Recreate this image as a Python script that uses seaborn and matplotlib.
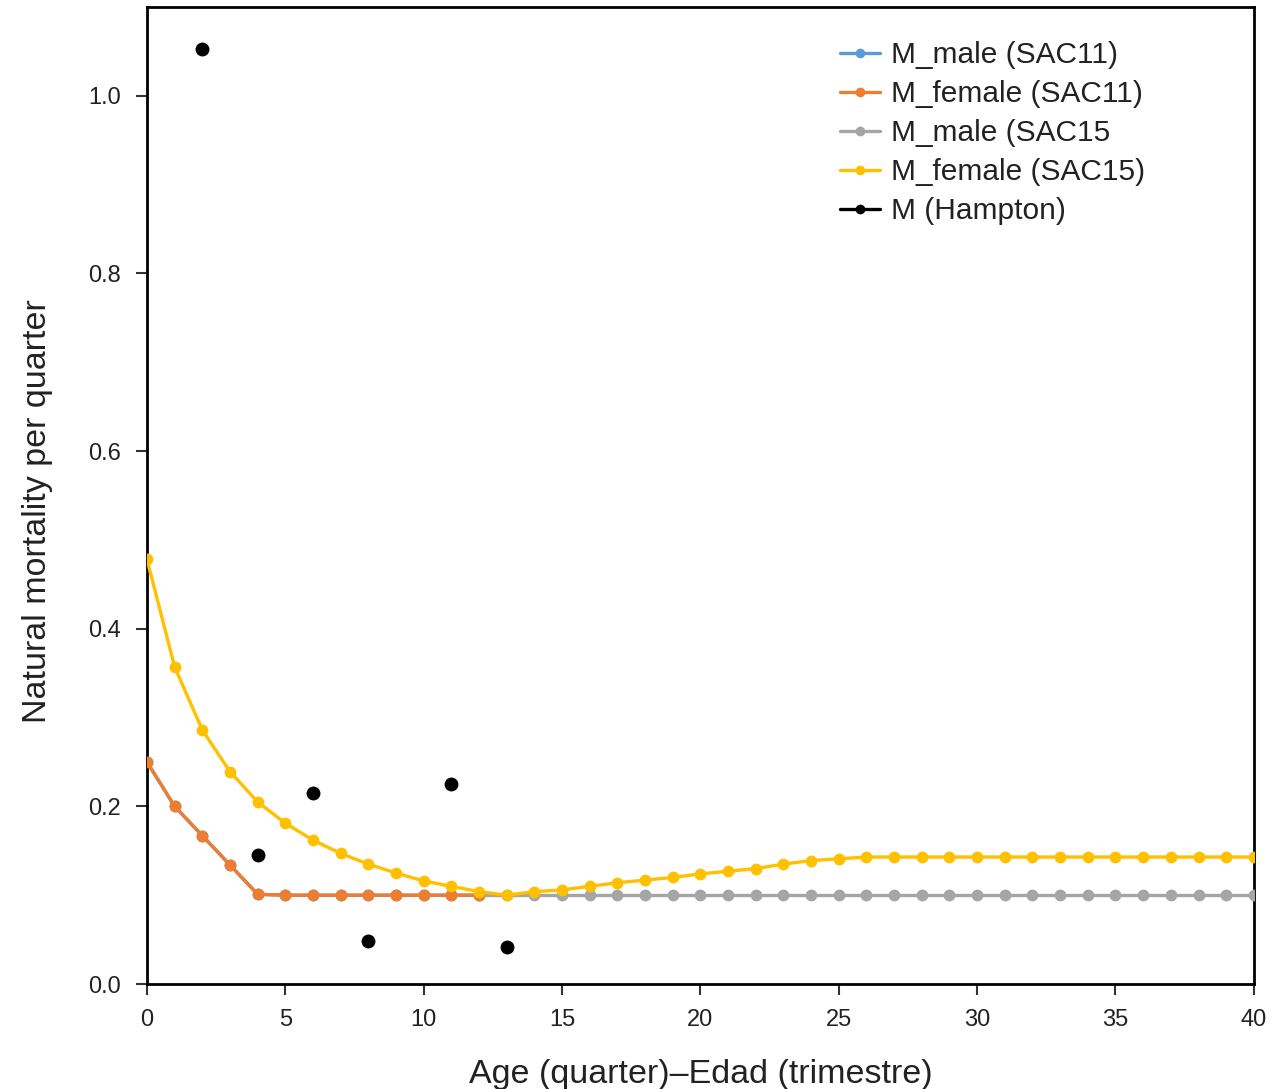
import numpy as np
import pandas as pd
import seaborn as sns
import matplotlib.pyplot as plt
from matplotlib.lines import Line2D

# data
age_sac11 = list(range(0, 13))
m_female_sac11 = [0.250, 0.200, 0.167, 0.134, 0.101, 0.100, 0.100, 0.100, 0.100, 0.100, 0.100, 0.100, 0.100]
m_male_sac11 = m_female_sac11  # hidden under the female SAC11 line

age_male_sac15 = list(range(12, 41))
m_male_sac15 = [0.100] * len(age_male_sac15)

age_female_sac15 = list(range(0, 41))
m_female_sac15 = [0.478, 0.357, 0.286, 0.239, 0.205, 0.181, 0.162, 0.147, 0.135, 0.125,
                  0.116, 0.110, 0.104, 0.100, 0.104, 0.106, 0.110, 0.114, 0.117, 0.120,
                  0.124, 0.127, 0.130, 0.135, 0.139, 0.141, 0.143, 0.143, 0.143, 0.143,
                  0.143, 0.143, 0.143, 0.143, 0.143, 0.143, 0.143, 0.143, 0.143, 0.143, 0.143]

age_hampton = [2, 4, 6, 8, 11, 13]
m_hampton = [1.053, 0.145, 0.215, 0.048, 0.225, 0.042]

labels = ['M_male (SAC11)', 'M_female (SAC11)', 'M_male (SAC15', 'M_female (SAC15)', 'M (Hampton)']
colors = ['#5B9BD5', '#ED7D31', '#A5A5A5', '#FFC000', '#000000']

sns.set_style('white')
plt.rcParams['font.family'] = ['Liberation Sans', 'DejaVu Sans']

fig = plt.figure(figsize=(12.86, 10.89), dpi=100)
ax = fig.add_axes([0.1143, 0.0964, 0.8607, 0.8972])

lw, ms = 2.4, 8.5
series = [
    (age_sac11, m_male_sac11, colors[0], 2),
    (age_male_sac15, m_male_sac15, colors[2], 3),
    (age_sac11, m_female_sac11, colors[1], 4),
    (age_female_sac15, m_female_sac15, colors[3], 5),
]
for x, y, c, z in series:
    df = pd.DataFrame({'age': x, 'M': y})
    sns.lineplot(data=df, x='age', y='M', color=c, marker='o', markersize=ms,
                 markeredgewidth=0, linewidth=lw, ax=ax, zorder=z)

sns.scatterplot(x=age_hampton, y=m_hampton, color='black', s=100, linewidth=0, ax=ax, zorder=6)

ax.set_xlim(0, 40)
ax.set_ylim(0, 1.1)
ax.set_xticks(np.arange(0, 41, 5))
ax.set_yticks(np.arange(0, 1.01, 0.2))
ax.set_yticklabels([f'{v:.1f}' for v in np.arange(0, 1.01, 0.2)])

for s in ax.spines.values():
    s.set_visible(True)
    s.set_color('black')
    s.set_linewidth(2.0)

ax.tick_params(axis='both', which='major', direction='out', length=8, width=1.5,
               color='#333333', labelcolor='#222222', bottom=True, left=True)
ax.tick_params(axis='x', labelsize=17, pad=10)
ax.tick_params(axis='y', labelsize=17, pad=11)

ax.set_xlabel('Age (quarter)\u2013Edad (trimestre)', fontsize=24.5, labelpad=20, color='#222222')
ax.set_ylabel('Natural mortality per quarter', fontsize=24.5, color='#222222')
ax.yaxis.set_label_coords(-0.0845, 0.484)

handles = [Line2D([0], [0], color=c, marker='o', markersize=7, linewidth=lw, markeredgewidth=0)
           for c in colors]
ax.legend(handles, labels, loc='upper left', bbox_to_anchor=(0.626, 0.965), frameon=False,
          borderaxespad=0, borderpad=0, fontsize=21.5, handlelength=1.35, handletextpad=0.35,
          labelspacing=0.37, labelcolor='#222222')

fig.savefig('out.png', dpi=100)
